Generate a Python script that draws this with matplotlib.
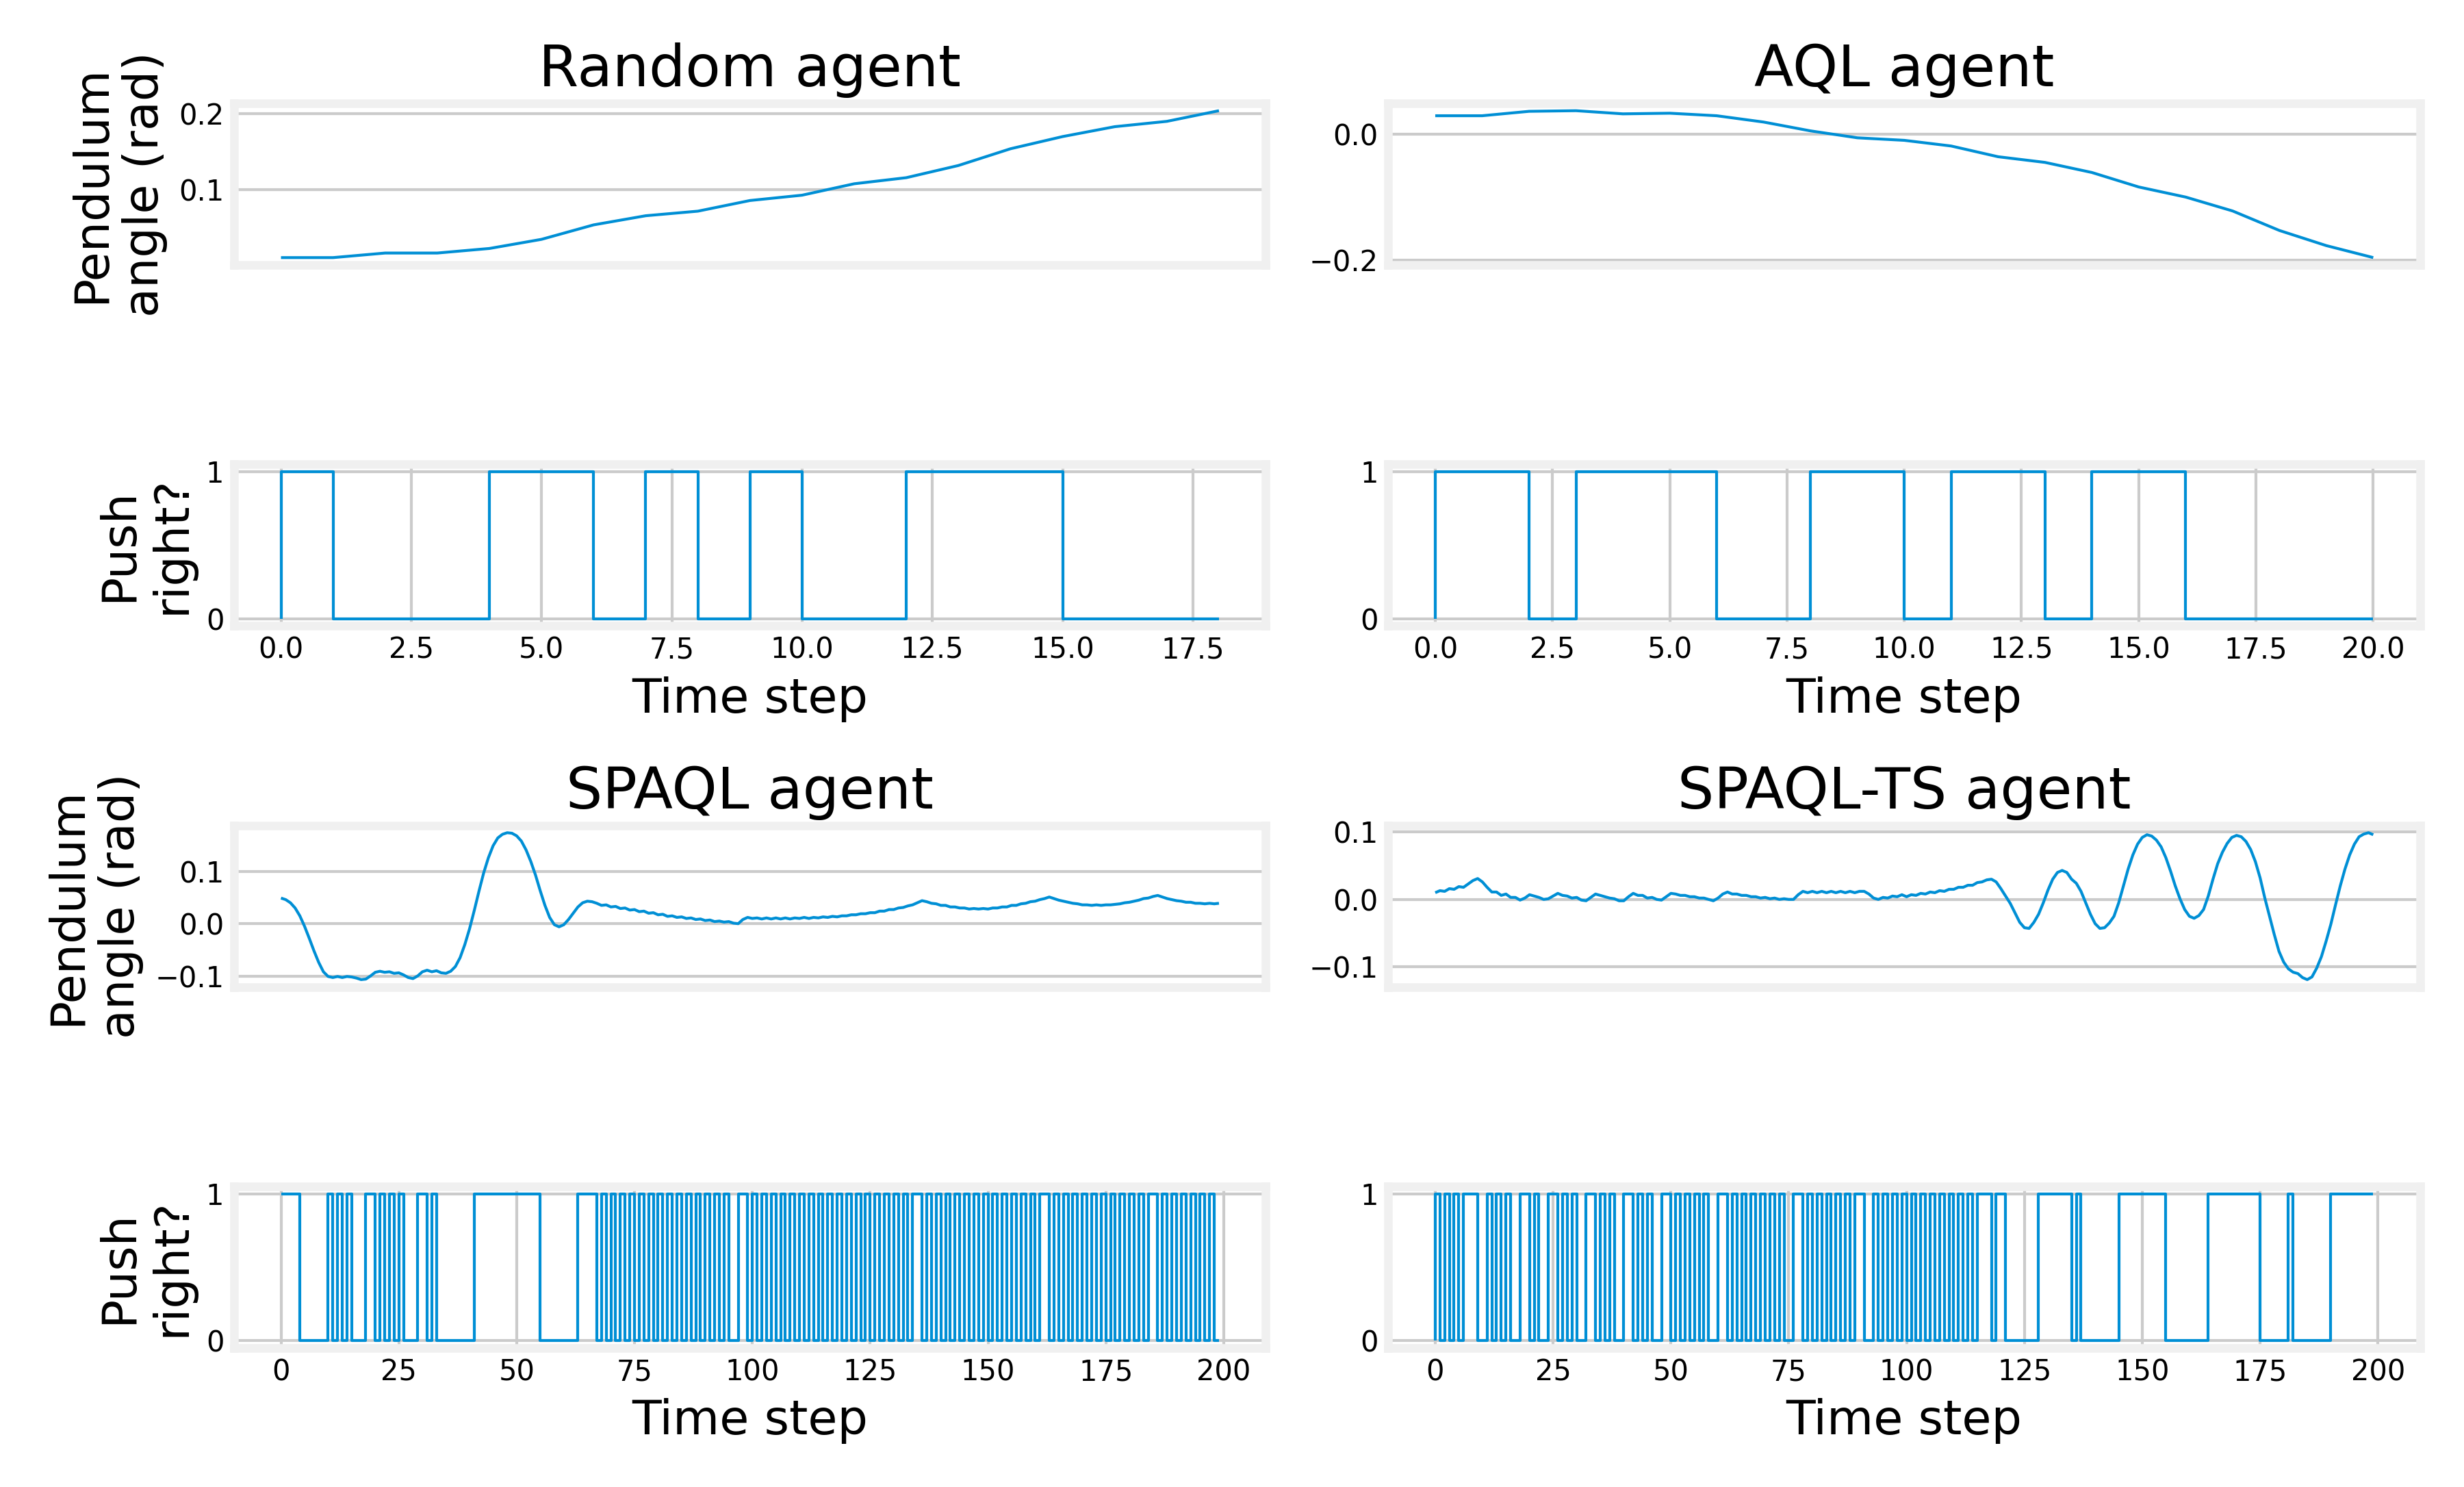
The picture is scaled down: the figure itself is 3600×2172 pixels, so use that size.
import matplotlib
matplotlib.use('Agg')
import matplotlib.pyplot as plt

# ---- data ----
titles = ['Random agent', 'AQL agent', 'SPAQL agent', 'SPAQL-TS agent']

random_angle = [0.011, 0.011, 0.017, 0.017, 0.023, 0.035, 0.054, 0.066, 0.072, 0.086,
                0.093, 0.108, 0.116, 0.132, 0.154, 0.170, 0.183, 0.190, 0.204]
random_push = [0, 1, 0, 0, 0, 1, 1, 0, 1, 0, 1, 0, 0, 1, 1, 1, 0, 0, 0]

aql_angle = [0.029, 0.029, 0.036, 0.037, 0.032, 0.033, 0.029, 0.019, 0.005, -0.006,
             -0.010, -0.019, -0.036, -0.045, -0.061, -0.084, -0.100, -0.122, -0.153,
             -0.177, -0.196]
aql_push = [0, 1, 1, 0, 1, 1, 1, 0, 0, 1, 1, 0, 1, 1, 0, 1, 1, 0, 0, 0, 0]

spaql_angle = [
    0.049, 0.046, 0.040, 0.030, 0.015, -0.005, -0.028, -0.052, -0.074, -0.092,
    -0.101, -0.103, -0.101, -0.103, -0.101, -0.102, -0.104, -0.107, -0.106, -0.100,
    -0.093, -0.091, -0.093, -0.092, -0.095, -0.094, -0.098, -0.103, -0.105, -0.100,
    -0.092, -0.089, -0.092, -0.090, -0.094, -0.095, -0.091, -0.082, -0.065, -0.040,
    -0.010, 0.025, 0.062, 0.097, 0.126, 0.149, 0.164, 0.171, 0.174, 0.173,
    0.168, 0.158, 0.141, 0.119, 0.093, 0.063, 0.035, 0.012, -0.002, -0.006,
    -0.002, 0.008, 0.020, 0.032, 0.040, 0.043, 0.042, 0.039, 0.035, 0.036,
    0.032, 0.033, 0.029, 0.030, 0.026, 0.027, 0.023, 0.024, 0.020, 0.021,
    0.017, 0.018, 0.014, 0.015, 0.012, 0.013, 0.010, 0.011, 0.008, 0.009,
    0.006, 0.007, 0.004, 0.005, 0.003, 0.004, 0.001, 0.000, 0.008, 0.012,
    0.010, 0.011, 0.009, 0.011, 0.009, 0.011, 0.009, 0.011, 0.009, 0.011,
    0.010, 0.012, 0.010, 0.012, 0.011, 0.013, 0.012, 0.014, 0.013, 0.015,
    0.015, 0.017, 0.017, 0.019, 0.019, 0.021, 0.021, 0.024, 0.024, 0.027,
    0.027, 0.030, 0.031, 0.034, 0.036, 0.040, 0.044, 0.042, 0.039, 0.038,
    0.035, 0.035, 0.032, 0.032, 0.030, 0.030, 0.028, 0.029, 0.028, 0.029,
    0.028, 0.030, 0.030, 0.032, 0.032, 0.035, 0.035, 0.038, 0.039, 0.042,
    0.043, 0.046, 0.048, 0.051, 0.048, 0.045, 0.043, 0.041, 0.039, 0.038,
    0.036, 0.036, 0.035, 0.036, 0.035, 0.036, 0.036, 0.037, 0.038, 0.040,
    0.041, 0.043, 0.045, 0.048, 0.049, 0.052, 0.054, 0.051, 0.048, 0.046,
    0.044, 0.043, 0.041, 0.041, 0.039, 0.039, 0.038, 0.039, 0.038, 0.039]
spaql_push = [
    1, 1, 1, 1, 1, 0, 0, 0, 0, 0, 0, 1, 0, 1, 0, 1, 0, 0, 0, 1,
    1, 0, 1, 0, 1, 0, 1, 0, 0, 0, 1, 1, 0, 1, 0, 0, 0, 0, 0, 0,
    0, 0, 1, 1, 1, 1, 1, 1, 1, 1, 1, 1, 1, 1, 1, 1, 0, 0, 0, 0,
    0, 0, 0, 0, 1, 1, 1, 1, 0, 1, 0, 1, 0, 1, 0, 1, 0, 1, 0, 1,
    0, 1, 0, 1, 0, 1, 0, 1, 0, 1, 0, 1, 0, 1, 0, 1, 0, 0, 1, 1,
    0, 1, 0, 1, 0, 1, 0, 1, 0, 1, 0, 1, 0, 1, 0, 1, 0, 1, 0, 1,
    0, 1, 0, 1, 0, 1, 0, 1, 0, 1, 0, 1, 0, 1, 0, 1, 1, 0, 1, 0,
    1, 0, 1, 0, 1, 0, 1, 0, 1, 0, 1, 0, 1, 0, 1, 0, 1, 0, 1, 0,
    1, 0, 1, 1, 0, 1, 0, 1, 0, 1, 0, 1, 0, 1, 0, 1, 0, 1, 0, 1,
    0, 1, 0, 1, 0, 1, 1, 0, 1, 0, 1, 0, 1, 0, 1, 0, 1, 0, 1, 0]

ts_angle = [
    0.010, 0.013, 0.012, 0.016, 0.015, 0.019, 0.018, 0.023, 0.028, 0.031,
    0.026, 0.018, 0.011, 0.011, 0.006, 0.008, 0.003, 0.003, -0.001, 0.002,
    0.007, 0.005, 0.003, 0.000, 0.001, 0.005, 0.009, 0.006, 0.005, 0.002,
    0.003, -0.001, -0.002, 0.003, 0.008, 0.006, 0.004, 0.002, 0.001, -0.002,
    -0.002, 0.004, 0.009, 0.006, 0.006, 0.002, 0.003, 0.000, -0.001, 0.004,
    0.009, 0.008, 0.006, 0.006, 0.004, 0.004, 0.002, 0.002, 0.000, -0.002,
    0.002, 0.008, 0.011, 0.008, 0.008, 0.006, 0.006, 0.004, 0.004, 0.002,
    0.003, 0.001, 0.002, 0.000, 0.001, 0.000, 0.000, 0.007, 0.012, 0.010,
    0.012, 0.010, 0.012, 0.010, 0.012, 0.010, 0.012, 0.010, 0.012, 0.010,
    0.012, 0.012, 0.008, 0.002, 0.000, 0.003, 0.002, 0.005, 0.004, 0.007,
    0.004, 0.007, 0.006, 0.009, 0.008, 0.011, 0.010, 0.013, 0.012, 0.015,
    0.015, 0.018, 0.018, 0.021, 0.021, 0.025, 0.026, 0.029, 0.030, 0.026,
    0.016, 0.005, -0.006, -0.020, -0.034, -0.042, -0.043, -0.034, -0.022, -0.005,
    0.014, 0.030, 0.040, 0.043, 0.040, 0.030, 0.024, 0.012, -0.005, -0.022,
    -0.036, -0.043, -0.042, -0.035, -0.025, -0.005, 0.020, 0.045, 0.066, 0.082,
    0.092, 0.096, 0.094, 0.088, 0.078, 0.062, 0.042, 0.020, 0.001, -0.015,
    -0.025, -0.028, -0.024, -0.015, 0.005, 0.030, 0.053, 0.070, 0.083, 0.092,
    0.095, 0.093, 0.086, 0.074, 0.056, 0.032, 0.002, -0.025, -0.052, -0.077,
    -0.093, -0.103, -0.108, -0.110, -0.116, -0.119, -0.115, -0.102, -0.085, -0.062,
    -0.037, -0.008, 0.020, 0.045, 0.066, 0.082, 0.093, 0.097, 0.099, 0.096]
ts_push = [
    0, 1, 0, 1, 0, 1, 0, 1, 1, 1, 0, 0, 1, 0, 1, 0, 1, 0, 0, 1,
    1, 0, 1, 0, 0, 1, 1, 0, 1, 0, 1, 0, 0, 1, 1, 0, 1, 0, 1, 0,
    0, 1, 1, 0, 1, 0, 1, 0, 0, 1, 1, 0, 1, 0, 1, 0, 1, 0, 1, 0,
    0, 1, 1, 0, 1, 0, 1, 0, 1, 0, 1, 0, 1, 0, 1, 0, 0, 1, 1, 0,
    1, 0, 1, 0, 1, 0, 1, 0, 1, 0, 1, 1, 0, 0, 1, 0, 1, 0, 1, 0,
    1, 0, 1, 0, 1, 0, 1, 0, 1, 0, 1, 0, 1, 0, 1, 0, 1, 1, 1, 0,
    1, 1, 0, 0, 0, 0, 0, 0, 0, 1, 1, 1, 1, 1, 1, 1, 0, 1, 0, 0,
    0, 0, 0, 0, 0, 0, 1, 1, 1, 1, 1, 1, 1, 1, 1, 1, 0, 0, 0, 0,
    0, 0, 0, 0, 0, 1, 1, 1, 1, 1, 1, 1, 1, 1, 1, 1, 0, 0, 0, 0,
    0, 0, 1, 0, 0, 0, 0, 0, 0, 0, 0, 1, 1, 1, 1, 1, 1, 1, 1, 1]

angles = [random_angle, aql_angle, spaql_angle, ts_angle]
pushes = [random_push, aql_push, spaql_push, ts_push]
angle_ticks = [[0.1, 0.2], [-0.2, 0.0], [-0.1, 0.0, 0.1], [-0.1, 0.0, 0.1]]
x_ticks = [[0, 2.5, 5, 7.5, 10, 12.5, 15, 17.5],
           [0, 2.5, 5, 7.5, 10, 12.5, 15, 17.5, 20],
           [0, 25, 50, 75, 100, 125, 150, 175, 200],
           [0, 25, 50, 75, 100, 125, 150, 175, 200]]

plt.style.use('fivethirtyeight')
plt.rcParams.update({
    'figure.facecolor': 'white',
    'axes.facecolor': 'white',
    'savefig.facecolor': 'white',
    'savefig.edgecolor': 'white',
    'lines.linewidth': 1.0,
    'font.family': 'DejaVu Sans',
    'xtick.labelsize': 10,
    'ytick.labelsize': 10,
})
blue = '#008fd5'

fig, axs = plt.subplots(4, 2, figsize=(12, 7.24), dpi=300)
fig.subplots_adjust(left=0.095, right=0.9822, top=0.9305, bottom=0.0935,
                    hspace=1.234, wspace=0.1187)

for k in range(4):
    r = (k // 2) * 2
    c = k % 2
    ax_a = axs[r][c]
    ax_p = axs[r + 1][c]

    xs = list(range(len(angles[k])))
    ax_a.plot(xs, angles[k], color=blue)
    ax_a.set_title(titles[k], fontsize=20.16)
    ax_a.set_yticks(angle_ticks[k])
    ax_a.set_xticks([])
    ax_a.set_xlim(ax_p.get_xlim())

    xp = list(range(len(pushes[k])))
    ax_p.step(xp, pushes[k], where='pre', color=blue)
    ax_p.set_yticks([0, 1])
    ax_p.set_xticks(x_ticks[k])
    ax_p.set_xlabel('Time step', fontsize=16.8)

    xmin = -0.05 * (len(xs) - 1)
    xmax = (len(xs) - 1) * 1.05
    ax_a.set_xlim(xmin, xmax)
    ax_p.set_xlim(xmin, xmax)

    if c == 0:
        ax_a.set_ylabel('Pendulum\nangle (rad)', fontsize=16.8)
        ax_p.set_ylabel('Push\nright?', fontsize=16.8)

    for ax in (ax_a, ax_p):
        ax.tick_params(length=0)

fig.savefig('out.png', dpi=300)
